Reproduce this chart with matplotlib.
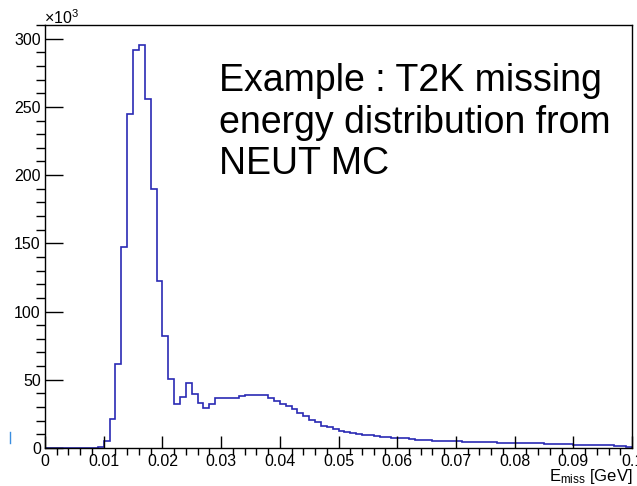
import numpy as np
import matplotlib
matplotlib.use('Agg')
import matplotlib.pyplot as plt
from matplotlib.ticker import MultipleLocator, FuncFormatter
from matplotlib.lines import Line2D

plt.rcParams['font.family'] = ['Liberation Sans', 'DejaVu Sans']
plt.rcParams['mathtext.fontset'] = 'custom'
plt.rcParams['mathtext.rm'] = 'Liberation Sans'
plt.rcParams['mathtext.it'] = 'Liberation Sans:italic'

# histogram: 100 bins of 1 MeV from 0 to 0.1 GeV, counts in units of 1e3
bin_edges = np.linspace(0.0, 0.1, 101)
counts_k = [
    0, 0, 0, 0, 0, 0, 0, 0, 0, 1.0,
    5.0, 21.0, 61.7, 147.6, 244.5, 291.6, 295.2, 255.5, 189.8, 122.7,
    82.4, 50.5, 32.6, 37.3, 47.6, 39.7, 32.8, 29.3, 32.4, 37.0,
    36.6, 36.5, 36.6, 37.8, 38.5, 39.1, 39.2, 39.0, 37.0, 34.1,
    32.2, 30.5, 28.5, 25.6, 23.1, 20.7, 18.7, 16.3, 15.1, 13.9,
    12.7, 11.8, 11.0, 10.3, 9.8, 9.2, 8.7, 8.2, 7.8, 7.5,
    7.3, 7.0, 6.6, 6.2, 5.9, 5.6, 5.4, 5.2, 5.0, 4.9,
    4.8, 4.7, 4.5, 4.4, 4.3, 4.2, 4.1, 4.0, 3.9, 3.8,
    3.7, 3.6, 3.5, 3.4, 3.3, 3.2, 3.1, 3.0, 2.8, 2.6,
    2.5, 2.4, 2.3, 2.2, 2.1, 2.0, 1.9, 1.8, 1.7, 1.0,
]

fig = plt.figure(figsize=(6.37, 4.86), dpi=100)
ax = fig.add_axes([45/637, 1-448/486, 587/637, 423/486])

ax.stairs(counts_k, bin_edges, color='#2a2ab4', linewidth=1.2)

ax.set_xlim(0, 0.1)
ax.set_ylim(0, 310)
ax.xaxis.set_major_locator(MultipleLocator(0.01))
ax.xaxis.set_minor_locator(MultipleLocator(0.002))
ax.yaxis.set_major_locator(MultipleLocator(50))
ax.yaxis.set_minor_locator(MultipleLocator(10))
ax.xaxis.set_major_formatter(FuncFormatter(lambda v, p: '0' if abs(v) < 1e-9 else ('%.2f' % v).rstrip('0')))
ax.tick_params(axis='both', direction='in', labelsize=11.5, width=1, color='black')
ax.tick_params(axis='y', which='major', length=12.7, pad=3)
ax.tick_params(axis='y', which='minor', length=6.4, width=1)
ax.tick_params(axis='x', which='major', length=8.9, pad=4)
ax.tick_params(axis='x', which='minor', length=4.8, width=1)
for s in ax.spines.values():
    s.set_linewidth(1.0)

fig.text(44/637, 1-24/486, r'$\times$10$^{3}$', fontsize=11.5, ha='left', va='baseline')
fig.text(632/637, 1-481/486, r'E$_{\mathrm{miss}}$ [GeV]', fontsize=12, ha='right', va='baseline')

fig.text(219/637, 1-63/486, 'Example : T2K missing\nenergy distribution from\nNEUT MC',
         fontsize=27, ha='left', va='top', linespacing=1.2)

# small stray mark at the left edge
fig.add_artist(Line2D([10/637, 10/637], [1-443/486, 1-432/486], color='#3a8ee0', linewidth=1))

fig.savefig('out.png', dpi=100)
